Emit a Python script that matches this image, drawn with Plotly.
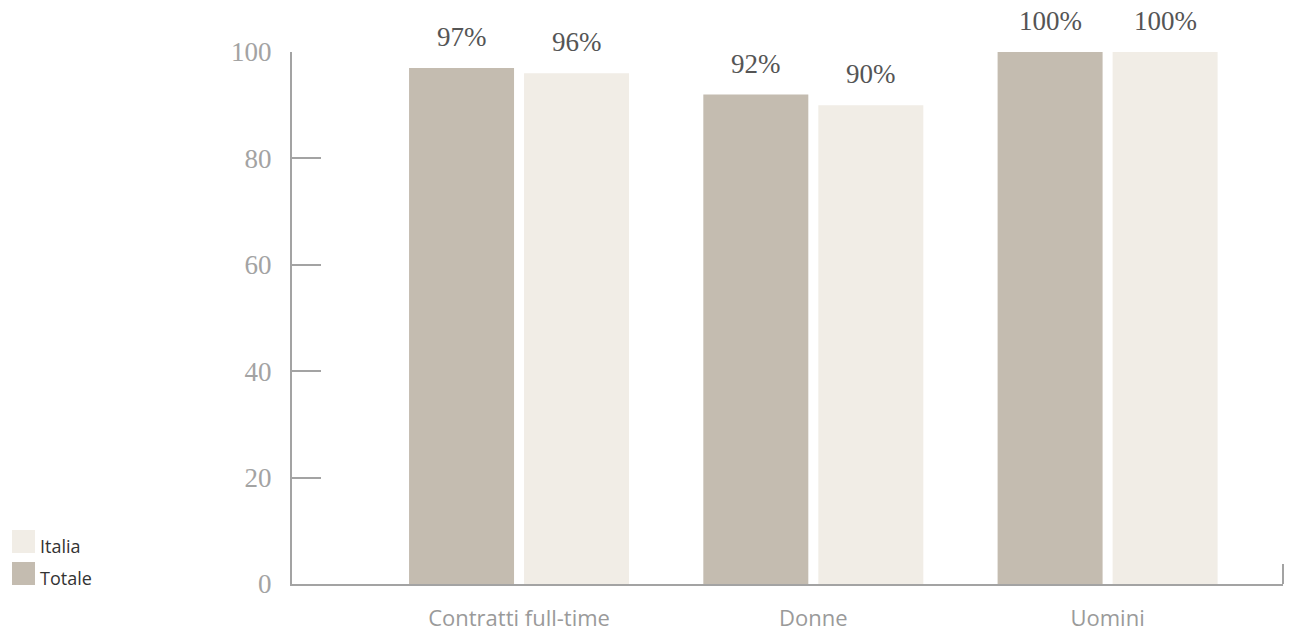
import plotly.graph_objects as go

categories = ["Contratti full-time", "Donne", "Uomini"]
totale = [97, 92, 100]
italia = [96, 90, 100]
series_names = ["Totale", "Italia"]
y_ticks = [0, 20, 40, 60, 80, 100]

COL_TOT = "#c4bcb0"
COL_ITA = "#f1ede6"
AXIS_COL = "#a3a3a3"

W, H = 1293, 636
ML, MR, MT, MB = 292, 10, 52, 52
PW, PH = W - ML - MR, H - MT - MB

def px_x(p):
    return (p - ML) / PW

def px_y(p):
    return (H - MB - p) / PH

fig = go.Figure()
fig.add_trace(go.Bar(x=categories, y=totale, name=series_names[0],
                     marker=dict(color=COL_TOT, line=dict(width=0)), showlegend=False))
fig.add_trace(go.Bar(x=categories, y=italia, name=series_names[1],
                     marker=dict(color=COL_ITA, line=dict(width=0)), showlegend=False))

label_font = dict(family="Liberation Serif", size=27, color="#555555")
for vals, shift in ((totale, -57.5), (italia, 57.5)):
    for c, v in zip(categories, vals):
        fig.add_annotation(x=c, y=v, xref="x", yref="y", text=f"{v}%",
                           showarrow=False, yanchor="bottom", xshift=shift, yshift=14,
                           font=label_font)

# legend (manual, larger swatches)
legend_items = [("Italia", COL_ITA, 530), ("Totale", COL_TOT, 562)]
for name, col, top in legend_items:
    fig.add_shape(type="rect", xref="paper", yref="paper",
                  x0=px_x(12), x1=px_x(35), y0=px_y(top + 23), y1=px_y(top),
                  fillcolor=col, line=dict(width=0))
    fig.add_annotation(xref="paper", yref="paper", x=px_x(38), y=px_y(top + 16),
                       text=name, showarrow=False, xanchor="left", yanchor="middle",
                       font=dict(family="Open Sans", size=18, color="#333333"))

# right end tick of x axis
fig.add_shape(type="line", xref="paper", yref="paper", x0=1, x1=1, y0=0, y1=20 / PH,
              line=dict(color=AXIS_COL, width=2))

fig.update_layout(
    width=W, height=H,
    margin=dict(l=ML, r=MR, t=MT, b=MB, autoexpand=False),
    plot_bgcolor="white", paper_bgcolor="white",
    barmode="group", bargap=0.2184, bargroupgap=0.087,
    showlegend=False,
    xaxis=dict(type="category", range=[-0.7715, 2.596], showgrid=False,
               showline=True, linecolor=AXIS_COL, linewidth=2, ticks="",
               tickfont=dict(family="Open Sans", size=22, color="#9a9a9a"),
               ticklabelstandoff=14, automargin=False),
    yaxis=dict(range=[0, 100], tickvals=y_ticks, showgrid=False, zeroline=False,
               showline=True, linecolor=AXIS_COL, linewidth=2,
               ticks="inside", ticklen=29, tickwidth=2, tickcolor=AXIS_COL,
               tickfont=dict(family="Liberation Serif", size=27, color="#a3a3a3"),
               ticklabelstandoff=13, automargin=False),
)

fig.write_html("out.html", config={"displayModeBar": False},
               post_script="document.body.style.margin='0';")
